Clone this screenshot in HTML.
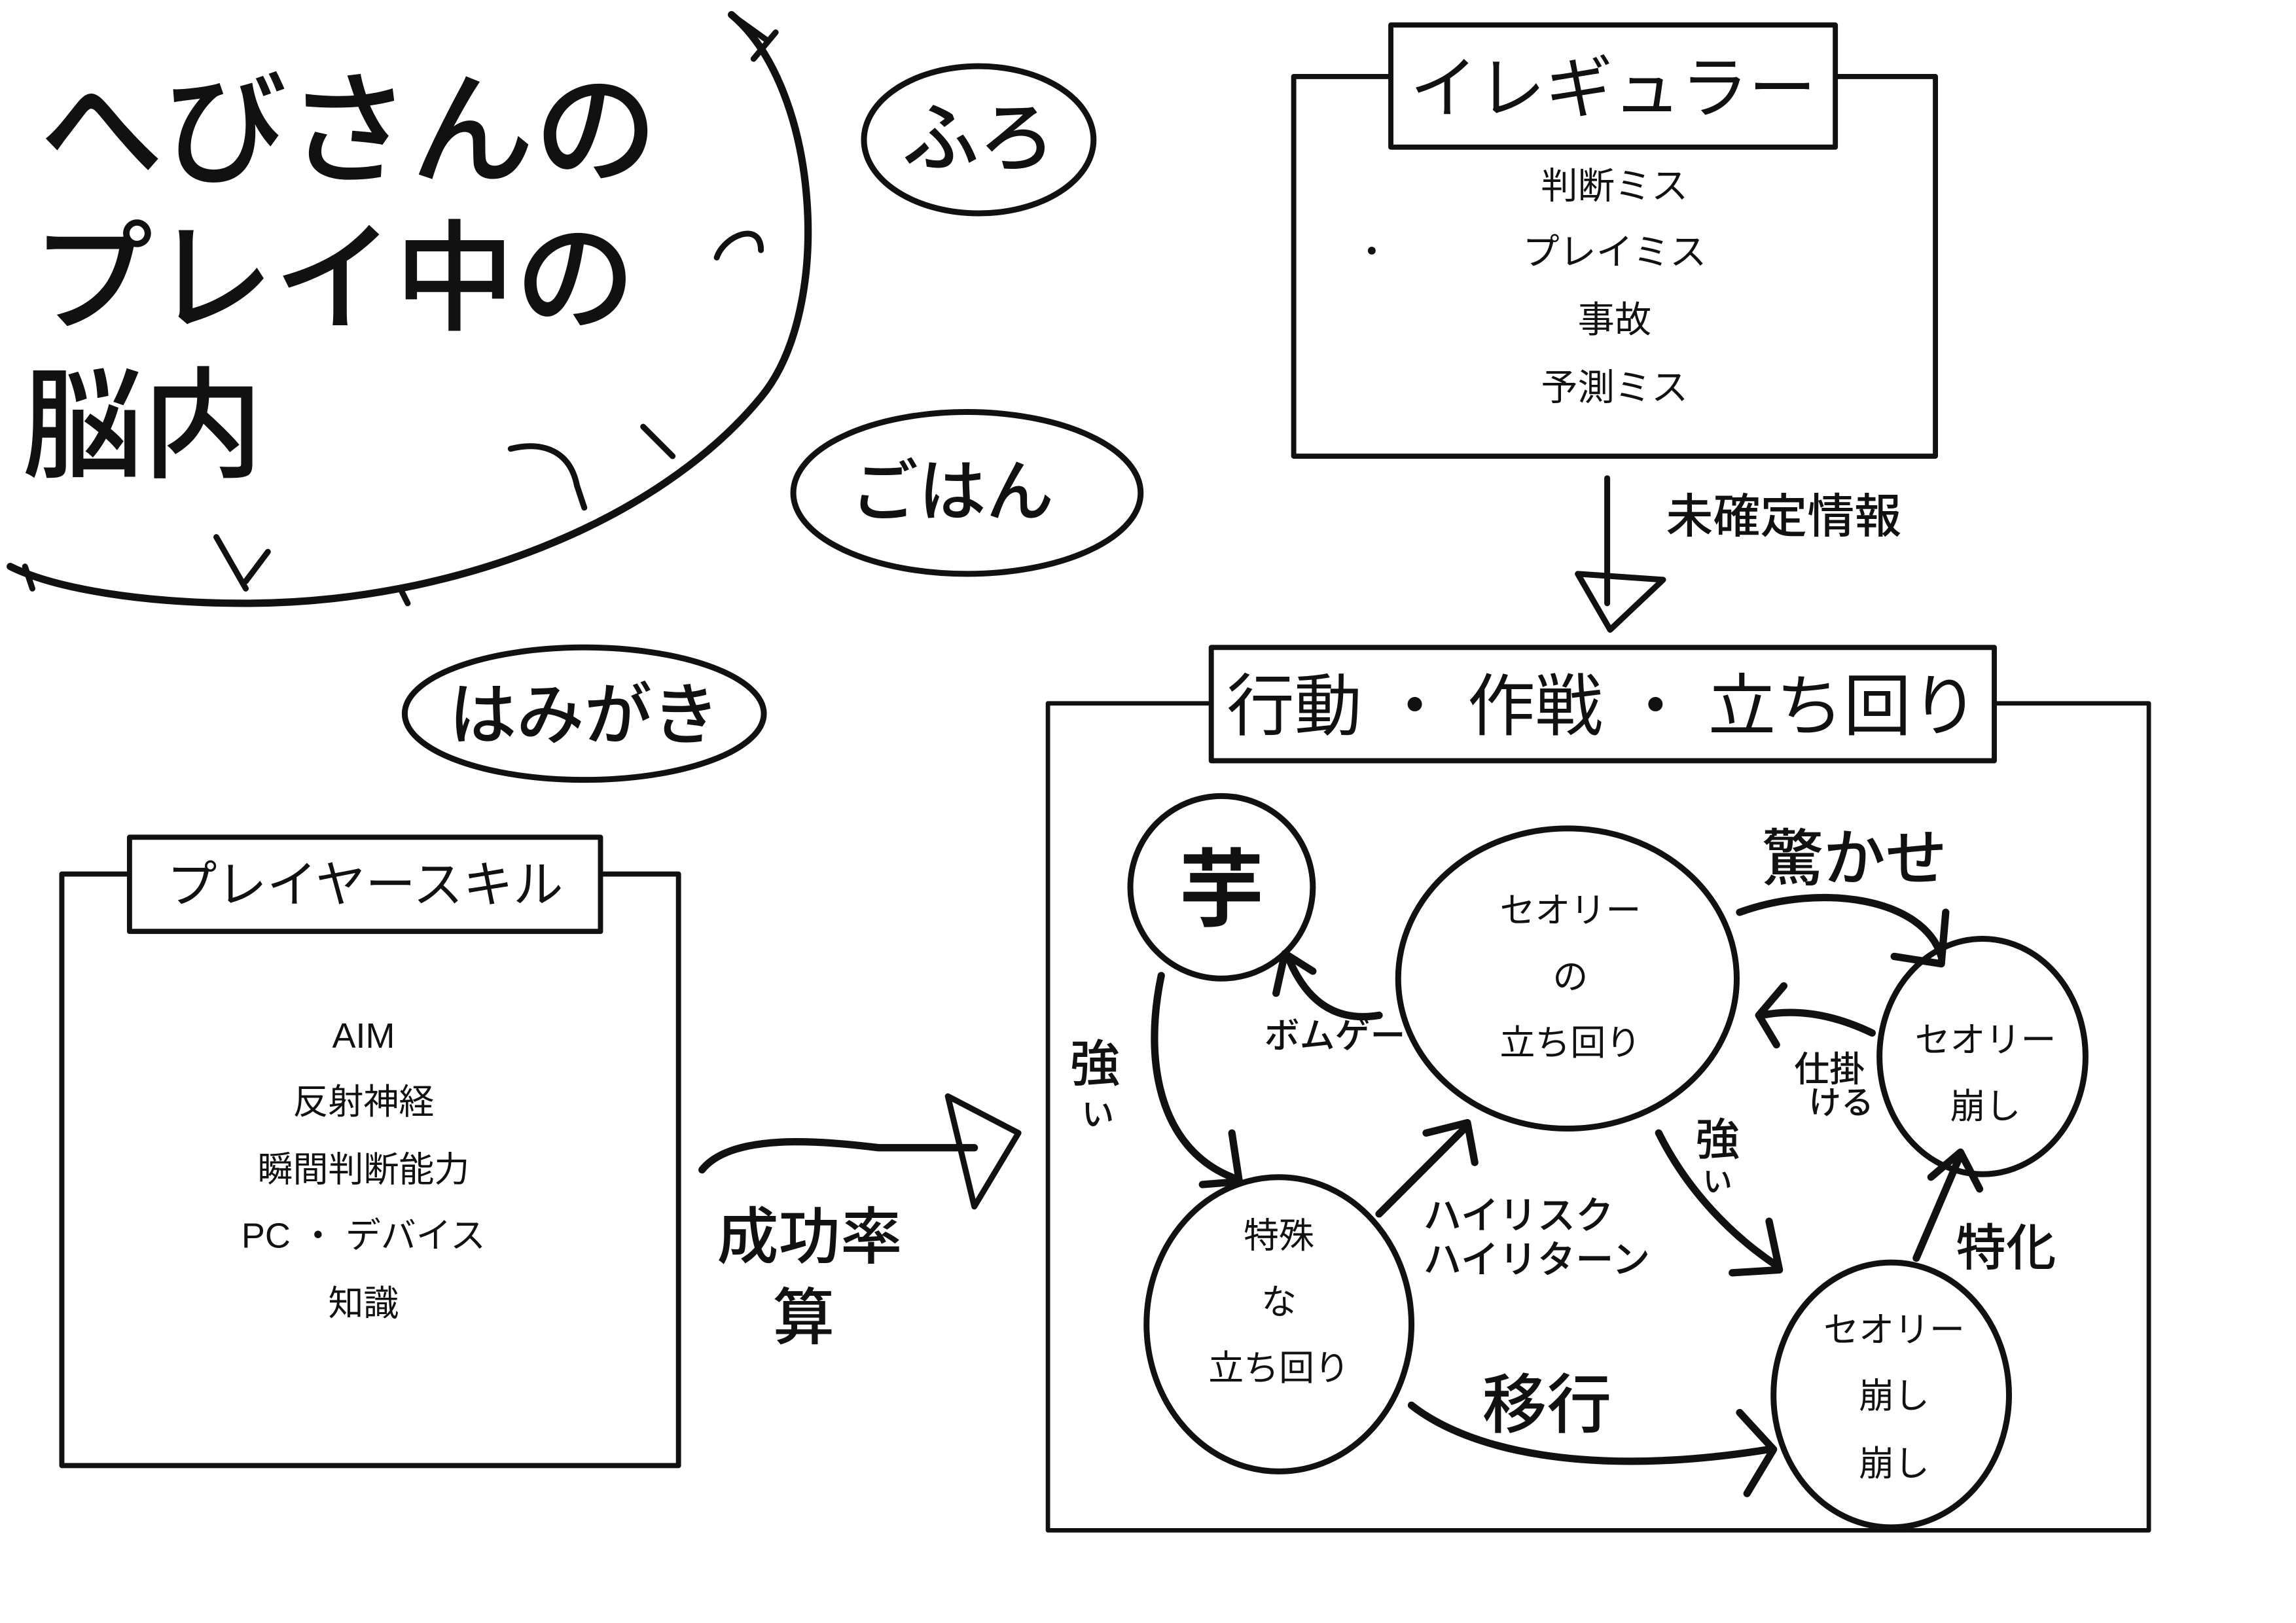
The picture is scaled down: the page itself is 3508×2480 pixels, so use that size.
<!DOCTYPE html>
<html><head><meta charset="utf-8"><style>
html,body{margin:0;padding:0;background:#fff;}
svg{display:block;}
text{font-family:"Liberation Sans","Noto Sans CJK JP",sans-serif;fill:#111;}
.h{font-family:"Noto Sans CJK JP","WenQuanYi Zen Hei",sans-serif;font-weight:500;}
</style></head><body>
<svg width="3508" height="2480" viewBox="0 0 1560 1103" preserveAspectRatio="none" xmlns="http://www.w3.org/2000/svg">
<rect width="1560" height="1103" fill="#fff"/>
<g transform="translate(-3,0)">
<g fill="none" stroke="#111" stroke-linecap="round" stroke-linejoin="round">
<path d="M500,10 C560,60 570,210 520,270 C450,355 310,410 170,410 C100,410 40,400 10,385" stroke-width="5"/>
<path d="M500,10 L525,28 M515,40 L530,22 M490,175 C495,160 520,150 520,170 M350,305 C370,300 390,305 395,330 L400,345 M440,290 L460,310 M150,365 L170,400 M185,375 L170,395 M20,385 L25,400 M275,400 L280,410" stroke-width="4"/>
<ellipse cx="668" cy="95" rx="78" ry="50" stroke-width="4"/>
<ellipse cx="660" cy="335" rx="118" ry="55" stroke-width="4"/>
<ellipse cx="400" cy="485" rx="122" ry="45" stroke-width="4"/>
<rect x="882" y="52" width="436" height="258" stroke-width="3.5"/>
<rect x="948" y="17" width="302" height="83" fill="#fff" stroke-width="3.5"/>
<path d="M1095,325 L1095,410" stroke-width="4"/>
<path d="M1075,390 L1133,394 L1097,428 Z" stroke-width="4"/>
<rect x="715" y="478" width="748" height="562" stroke-width="3"/>
<rect x="826" y="440" width="532" height="77" fill="#fff" stroke-width="3.5"/>
<rect x="45" y="594" width="419" height="402" stroke-width="3.5"/>
<rect x="91" y="569" width="320" height="64" fill="#fff" stroke-width="3.5"/>
<path d="M480,795 C500,770 560,775 600,780 L665,780" stroke-width="5"/>
<path d="M647,745 L695,770 L665,820 Z" stroke-width="4"/>
<ellipse cx="833" cy="603" rx="62" ry="62" stroke-width="4"/>
<ellipse cx="1068" cy="665" rx="115" ry="102" stroke-width="4"/>
<ellipse cx="1350" cy="718" rx="70" ry="80" stroke-width="4"/>
<ellipse cx="872" cy="900" rx="90" ry="100" stroke-width="4"/>
<ellipse cx="1288" cy="948" rx="80" ry="90" stroke-width="4"/>
<g stroke-width="5">
<path d="M792,663 C780,720 790,780 840,800"/><path d="M820,805 L845,803 L840,770"/>
<path d="M940,690 C910,695 890,680 878,650"/><path d="M870,675 L876,648 L895,660"/>
<path d="M1185,620 C1240,600 1310,610 1322,650"/><path d="M1290,650 L1322,655 L1325,620"/>
<path d="M1275,702 C1250,690 1225,685 1200,690"/><path d="M1215,670 L1198,690 L1210,710"/>
<path d="M1130,770 C1150,810 1180,840 1210,860"/><path d="M1180,865 L1212,863 L1205,830"/>
<path d="M940,825 L1000,765"/><path d="M972,770 L1000,763 L1005,790"/>
<path d="M962,955 C1000,985 1080,1005 1205,985"/><path d="M1185,960 L1208,985 L1190,1015"/>
<path d="M1305,855 L1335,785"/><path d="M1315,800 L1335,783 L1348,808"/>
</g>
</g>
<text x="30" y="118" font-size="84" class="h">へびさんの</text>
<text x="25" y="218" font-size="82" class="h">プレイ中の</text>
<text x="18" y="318" font-size="82" class="h">脳内</text>
<text x="668" y="112" font-size="52" class="h" text-anchor="middle">ふろ</text>
<text x="650" y="350" font-size="46" class="h" text-anchor="middle">ごはん</text>
<text x="400" y="502" font-size="46" class="h" text-anchor="middle">はみがき</text>
<text x="1099" y="76" font-size="46" text-anchor="middle">イレギュラー</text>
<g font-size="25" text-anchor="middle">
<text x="1100" y="135">判断ミス</text>
<text x="1100" y="180">プレイミス</text>
<text x="1100" y="226">事故</text>
<text x="1100" y="272">予測ミス</text>
<text x="935" y="180">・</text>
</g>
<text x="1135" y="362" font-size="32" class="h">未確定情報</text>
<text x="1092" y="496" font-size="46" text-anchor="middle">行動 ・ 作戦 ・ 立ち回り</text>
<text x="251" y="613" font-size="34" text-anchor="middle">プレイヤースキル</text>
<g font-size="24" text-anchor="middle">
<text x="250" y="712">AIM</text>
<text x="250" y="757">反射神経</text>
<text x="250" y="803">瞬間判断能力</text>
<text x="250" y="848">PC ・ デバイス</text>
<text x="250" y="894">知識</text>
</g>
<text x="490" y="855" font-size="42" class="h">成功率</text>
<text x="528" y="910" font-size="42" class="h">算</text>
<text x="833" y="625" font-size="58" text-anchor="middle" font-weight="bold">芋</text>
<g font-size="24" text-anchor="middle">
<text x="1070" y="627">セオリー</text>
<text x="1070" y="672">の</text>
<text x="1070" y="717">立ち回り</text>
<text x="1352" y="715">セオリー</text>
<text x="1352" y="760">崩し</text>
<text x="872" y="848">特殊</text>
<text x="872" y="893">な</text>
<text x="872" y="938">立ち回り</text>
<text x="1290" y="912">セオリー</text>
<text x="1290" y="957">崩し</text>
<text x="1290" y="1003">崩し</text>
</g>
<text x="730" y="735" font-size="34" class="h">強</text><text x="738" y="765" font-size="22" class="h">い</text>
<text x="862" y="712" font-size="24" class="h">ボムゲー</text>
<text x="1200" y="598" font-size="42" class="h">驚かせ</text>
<text x="1222" y="735" font-size="24" class="h">仕掛</text><text x="1232" y="757" font-size="22" class="h">ける</text>
<text x="1155" y="785" font-size="30" class="h">強</text><text x="1160" y="810" font-size="20" class="h">い</text>
<text x="970" y="835" font-size="26" class="h">ハイリスク</text>
<text x="970" y="865" font-size="26" class="h">ハイリターン</text>
<text x="1010" y="970" font-size="44" class="h">移行</text>
<text x="1332" y="860" font-size="34" class="h">特化</text>
</g>
</svg>
</body></html>
